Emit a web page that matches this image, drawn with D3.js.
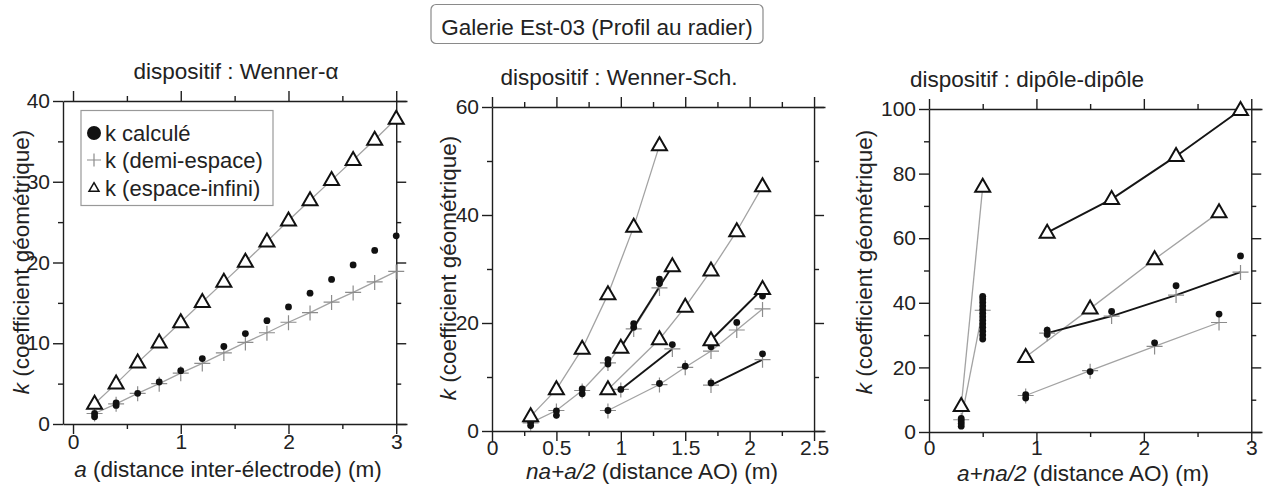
<!DOCTYPE html>
<html><head><meta charset="utf-8">
<script src="https://cdn.jsdelivr.net/npm/d3@7"></script>
<style>
html,body{margin:0;padding:0;background:#fff;}
svg text{font-family:"Liberation Sans",Arial,Helvetica,sans-serif;fill:#222;}
</style></head>
<body>
<svg id="chart" width="1265" height="499"></svg>
<script>
// ---------------- DATA ----------------
const mainTitle = "Galerie Est-03 (Profil au radier)";
const panelTitles = ["dispositif : Wenner-\u03b1", "dispositif : Wenner-Sch.", "dispositif : dip\u00f4le-dip\u00f4le"];
const legendLabels = ["k calcul\u00e9", "k (demi-espace)", "k (espace-infini)"];

// Panel 1 : Wenner-alpha
const wa_a      = [0.2,0.4,0.6,0.8,1.0,1.2,1.4,1.6,1.8,2.0,2.2,2.4,2.6,2.8,3.0];
const wa_kInf   = [2.5,5.0,7.6,10.1,12.6,15.1,17.6,20.1,22.6,25.2,27.7,30.2,32.7,35.2,37.8];
const wa_kHalf  = [1.3,2.5,3.8,5.0,6.3,7.5,8.8,10.1,11.3,12.6,13.8,15.1,16.3,17.6,18.9];
const wa_kCalc  = [0.9,2.3,3.8,5.2,6.6,8.1,9.6,11.2,12.8,14.5,16.2,17.9,19.7,21.5,23.3];
const wa_kCalcExtra = [[0.2,1.3],[0.4,2.6]];
const wa_xTicks = [0,1,2,3], wa_xMinor = [0.5,1.5,2.5];
const wa_yTicks = [0,10,20,30,40], wa_yMinor = [5,15,25,35];

// Panel 2 : Wenner-Schlumberger
const ws_infGray1  = [[0.3,2.7],[0.5,7.7],[0.7,15.2],[0.9,25.3],[1.1,37.8],[1.3,52.9]];
const ws_infGray2  = [[0.9,7.7],[1.3,17.0],[1.5,23.0],[1.7,29.7],[1.9,37.0],[2.1,45.3]];
const ws_infBlack1 = [[1.0,15.4],[1.4,30.5]];
const ws_infBlack2 = [[1.7,16.8],[2.1,26.3]];
const ws_halfGray1 = [[0.3,1.5],[0.5,3.8],[0.7,7.5],[0.9,12.6],[1.1,18.9],[1.3,26.5]];
const ws_halfGray2 = [[0.9,3.8],[1.3,8.6],[1.5,11.8],[1.7,14.8],[1.9,18.7],[2.1,22.6]];
const ws_halfBlack1 = [[1.0,7.7],[1.4,15.2]];
const ws_halfBlack2 = [[1.7,8.5],[2.1,13.2]];
const ws_calc = [[0.3,1.0],[0.3,1.6],[0.5,2.9],[0.5,3.7],[0.7,6.9],[0.7,7.8],[0.9,12.4],[0.9,13.2],
  [1.1,19.2],[1.1,19.9],[1.3,27.3],[1.3,28.1],[0.9,3.8],[1.0,7.7],[1.3,8.8],[1.4,16.0],[1.5,12.0],
  [1.7,15.6],[1.9,20.1],[2.1,25.0],[1.7,8.9],[2.1,14.3]];
const ws_xTicks = [0,0.5,1,1.5,2,2.5], ws_xMinor = [0.25,0.75,1.25,1.75,2.25];
const ws_yTicks = [0,20,40,60], ws_yMinor = [10,30,50];

// Panel 3 : dipole-dipole
const dd_infGray0  = [[0.3,8.0],[0.5,75.9]];
const dd_halfGray0 = [[0.3,3.8],[0.5,37.7]];
const dd_infGray1  = [[0.9,23.2],[1.5,38.2],[2.1,53.5],[2.7,68.0]];
const dd_halfGray1 = [[0.9,11.3],[1.5,19.0],[2.1,26.5],[2.7,33.9]];
const dd_infBlack1 = [[1.1,61.7],[1.7,72.1],[2.3,85.4],[2.9,99.7]];
const dd_halfBlack1 = [[1.1,30.6],[1.7,35.9],[2.3,42.4],[2.9,49.5]];
const dd_calc = [[0.3,1.8],[0.3,2.6],[0.3,3.4],[0.3,4.2],
  [0.5,28.8],[0.5,30.0],[0.5,31.2],[0.5,32.4],[0.5,33.5],[0.5,34.6],[0.5,35.7],[0.5,36.8],[0.5,37.9],[0.5,39.0],[0.5,40.1],[0.5,41.2],[0.5,42.0],
  [0.9,10.5],[0.9,11.6],[1.1,30.2],[1.1,31.5],[1.5,18.7],[1.7,37.3],[2.1,27.6],[2.3,45.3],[2.7,36.5],[2.9,54.5]];
const dd_xTicks = [0,1,2,3], dd_xMinor = [0.5,1.5,2.5];
const dd_yTicks = [0,20,40,60,80,100], dd_yMinor = [10,30,50,70,90];

// ---------------- DRAW ----------------
const svg = d3.select("#chart");
const GRAY = "#a3a3a3", BLACK = "#151515", AX = "#1e1e1e";
const FS = 21;

const tb = svg.append("g");
tb.append("rect").attr("x",431).attr("y",4.5).attr("width",332).attr("height",39).attr("rx",5)
  .attr("fill","#fff").attr("stroke","#8a8a8a").attr("stroke-width",1.2);
tb.append("text").attr("x",597).attr("y",34.5).attr("text-anchor","middle").attr("font-size",22.5).text(mainTitle);

function triPath(s){ const h=s*0.866; return `M0,${-h*0.62}L${s/2},${h*0.38}L${-s/2},${h*0.38}Z`; }

function panel(cfg){
  const g = svg.append("g");
  const x = d3.scaleLinear().domain(cfg.xDom).range(cfg.xRange);
  const y = d3.scaleLinear().domain(cfg.yDom).range(cfg.yRange);
  const xR = x(cfg.xRightAxis);
  const yT = cfg.yRange[1], yB = cfg.yRange[0];

  function styleAx(sel){ sel.selectAll("path,line").attr("stroke",AX).attr("stroke-width",1.4);
    sel.selectAll("text").attr("font-size",FS).attr("fill","#222").attr("font-family",'"Liberation Sans",Arial,sans-serif'); }
  const bot = g.append("g").attr("transform",`translate(0,${yB})`)
    .call(d3.axisBottom(x).tickValues(cfg.xTicks).tickSize(10).tickSizeOuter(0).tickPadding(cfg.xPad).tickFormat(d3.format("~g")));
  styleAx(bot);
  const botM = g.append("g").attr("transform",`translate(0,${yB})`).call(d3.axisBottom(x).tickValues(cfg.xMinor).tickSize(5).tickFormat(""));
  botM.select(".domain").remove(); styleAx(botM);
  const top = g.append("g").attr("transform",`translate(0,${yT})`).call(d3.axisTop(x).tickValues(cfg.xTicks).tickSize(10).tickSizeOuter(0).tickFormat(""));
  styleAx(top);
  const topM = g.append("g").attr("transform",`translate(0,${yT})`).call(d3.axisTop(x).tickValues(cfg.xMinor).tickSize(5).tickFormat(""));
  topM.select(".domain").remove(); styleAx(topM);
  const left = g.append("g").attr("transform",`translate(${cfg.xRange[0]},0)`)
    .call(d3.axisLeft(y).tickValues(cfg.yTicks).tickSize(10).tickSizeOuter(0).tickPadding(3));
  styleAx(left);
  const leftM = g.append("g").attr("transform",`translate(${cfg.xRange[0]},0)`).call(d3.axisLeft(y).tickValues(cfg.yMinor).tickSize(5).tickFormat(""));
  leftM.select(".domain").remove(); styleAx(leftM);
  const right = g.append("g").attr("transform",`translate(${xR},0)`).call(d3.axisRight(y).tickValues(cfg.yTicks).tickSize(10).tickSizeOuter(0).tickFormat(""));
  styleAx(right);
  const rightM = g.append("g").attr("transform",`translate(${xR},0)`).call(d3.axisRight(y).tickValues(cfg.yMinor).tickSize(5).tickFormat(""));
  rightM.select(".domain").remove(); styleAx(rightM);

  g.append("text").attr("x",cfg.titleX).attr("y",cfg.titleY).attr("text-anchor","middle").attr("font-size",22.5).text(cfg.title);
  const yl = g.append("text").attr("transform",`translate(${cfg.yLabX},${cfg.yLabY}) rotate(-90)`).attr("text-anchor","middle").attr("font-size",22.5);
  yl.append("tspan").attr("font-style","italic").text("k");
  yl.append("tspan").text(" (coefficient g\u00e9om\u00e9trique)");
  const xl = g.append("text").attr("x",cfg.xLabX).attr("y",cfg.xLabY).attr("text-anchor","middle").attr("font-size",22.5);
  xl.append("tspan").attr("font-style","italic").text(cfg.xLabIt);
  xl.append("tspan").text(cfg.xLabRest);

  const line = d3.line().x(d=>x(d[0])).y(d=>y(d[1]));
  const plot = g.append("g");
  cfg.grayLines.forEach(s=>plot.append("path").attr("d",line(s)).attr("fill","none").attr("stroke",GRAY).attr("stroke-width",1.3));
  cfg.blackLines.forEach(s=>plot.append("path").attr("d",line(s)).attr("fill","none").attr("stroke",BLACK).attr("stroke-width",1.9));
  cfg.plus.forEach(s=>s.forEach(d=>{
    plot.append("path").attr("d",`M${x(d[0])-8},${y(d[1])}h16M${x(d[0])},${y(d[1])-7}v15`)
      .attr("stroke","#8c8c8c").attr("stroke-width",1.2).attr("fill","none");
  }));
  cfg.dots.forEach(d=>plot.append("circle").attr("cx",x(d[0])).attr("cy",y(d[1])).attr("r",3.4).attr("fill","#111"));
  cfg.tri.forEach(s=>s.forEach(d=>{
    plot.append("path").attr("d",triPath(15)).attr("transform",`translate(${x(d[0])},${y(d[1])})`)
      .attr("fill","#fff").attr("stroke","#111").attr("stroke-width",2);
  }));
  return {g,x,y};
}

const p1 = panel({
  xDom:[-0.093,3.1], xRange:[63,407], yDom:[0,40], yRange:[424,101], xRightAxis:3, xPad:0,
  xTicks:wa_xTicks, xMinor:wa_xMinor, yTicks:wa_yTicks, yMinor:wa_yMinor,
  title:panelTitles[0], titleX:236, titleY:79,
  yLabX:29, yLabY:262, xLabX:228, xLabY:477, xLabIt:"a", xLabRest:" (distance inter-\u00e9lectrode) (m)",
  grayLines:[wa_a.map((v,i)=>[v,wa_kInf[i]]), wa_a.map((v,i)=>[v,wa_kHalf[i]])],
  blackLines:[],
  plus:[wa_a.map((v,i)=>[v,wa_kHalf[i]])],
  dots:wa_a.map((v,i)=>[v,wa_kCalc[i]]).concat(wa_kCalcExtra),
  tri:[wa_a.map((v,i)=>[v,wa_kInf[i]])]
});
{
  const lg = p1.g.append("g");
  lg.append("rect").attr("x",81).attr("y",110.5).attr("width",192).attr("height",95).attr("fill","#fff").attr("stroke","#999").attr("stroke-width",1.2);
  lg.append("circle").attr("cx",94).attr("cy",133).attr("r",7).attr("fill","#111");
  lg.append("path").attr("d","M87,160h14M94,153.5v13").attr("stroke","#8c8c8c").attr("stroke-width",1.2);
  lg.append("path").attr("d",triPath(10)).attr("transform","translate(94,188)").attr("fill","#fff").attr("stroke","#111").attr("stroke-width",1.5);
  [141,168,196].forEach((yy,i)=>lg.append("text").attr("x",105).attr("y",yy).attr("font-size",22).text(legendLabels[i]));
}

panel({
  xDom:[0,2.585], xRange:[492,825], yDom:[0,60], yRange:[431,107], xRightAxis:2.5, xPad:-1,
  xTicks:ws_xTicks, xMinor:ws_xMinor, yTicks:ws_yTicks, yMinor:ws_yMinor,
  title:panelTitles[1], titleX:619, titleY:85,
  yLabX:456, yLabY:268, xLabX:652, xLabY:479, xLabIt:"na+a/2", xLabRest:" (distance AO) (m)",
  grayLines:[ws_infGray1, ws_infGray2, ws_halfGray1, ws_halfGray2],
  blackLines:[ws_infBlack1, ws_infBlack2, ws_halfBlack1, ws_halfBlack2],
  plus:[ws_halfGray1, ws_halfGray2, ws_halfBlack1, ws_halfBlack2],
  dots:ws_calc,
  tri:[ws_infGray1, ws_infGray2, ws_infBlack1, ws_infBlack2]
});

panel({
  xDom:[0,3.1], xRange:[929,1262], yDom:[0,100], yRange:[432,109], xRightAxis:3, xPad:-2,
  xTicks:dd_xTicks, xMinor:dd_xMinor, yTicks:dd_yTicks, yMinor:dd_yMinor,
  title:panelTitles[2], titleX:1027, titleY:87,
  yLabX:872, yLabY:262, xLabX:1083, xLabY:481, xLabIt:"a+na/2", xLabRest:" (distance AO) (m)",
  grayLines:[dd_infGray0, dd_halfGray0, dd_infGray1, dd_halfGray1],
  blackLines:[dd_infBlack1, dd_halfBlack1],
  plus:[dd_halfGray0, dd_halfGray1, dd_halfBlack1],
  dots:dd_calc,
  tri:[dd_infGray0, dd_infGray1, dd_infBlack1]
});
</script>
</body></html>
